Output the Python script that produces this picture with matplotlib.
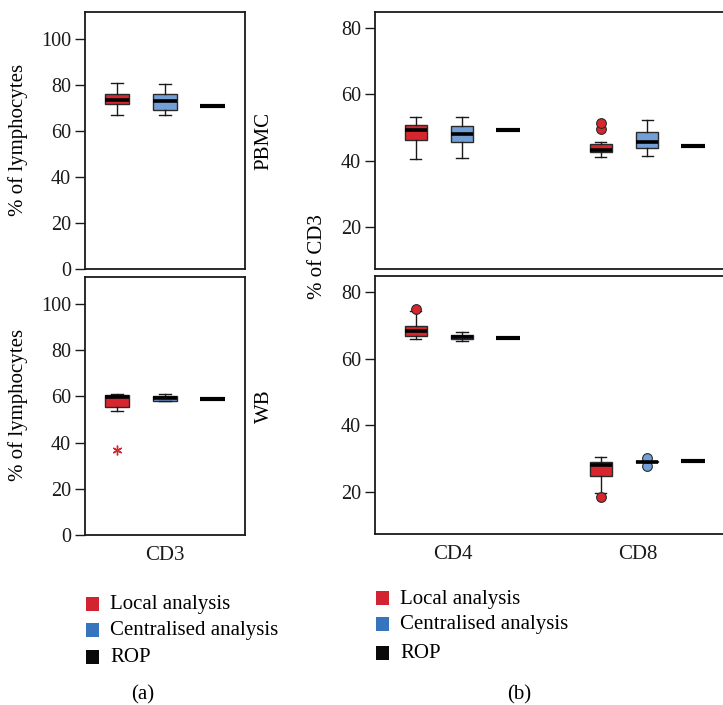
import matplotlib
matplotlib.use("Agg")
import matplotlib.pyplot as plt
from matplotlib.patches import Rectangle

plt.rcParams['font.family'] = ['Liberation Serif', 'DejaVu Serif']

# ---------------- data ----------------
series = ["Local analysis", "Centralised analysis", "ROP"]
legend_colors = ["#d42330", "#3674be", "#0a0a0a"]
box_colors = ["#d7262e", "#72a0d6"]

# Panel (a): CD3, % of lymphocytes
cd3_pbmc_local = dict(whislo=67.1, q1=71.6, med=73.6, q3=76.2, whishi=81.0, fliers=[])
cd3_pbmc_central = dict(whislo=67.0, q1=69.3, med=73.0, q3=76.2, whishi=80.4, fliers=[])
cd3_pbmc_rop = 70.9

cd3_wb_local = dict(whislo=53.5, q1=55.6, med=59.7, q3=60.5, whishi=61.0, fliers=[])
cd3_wb_local_extreme = [37.0]
cd3_wb_central = dict(whislo=57.8, q1=58.2, med=59.1, q3=60.0, whishi=61.0, fliers=[])
cd3_wb_rop = 58.9

# Panel (b): CD4 / CD8, % of CD3
subsets = ["CD4", "CD8"]
pbmc_local = [dict(whislo=40.4, q1=46.1, med=49.1, q3=50.6, whishi=53.2, fliers=[]),
              dict(whislo=41.1, q1=42.5, med=43.1, q3=45.1, whishi=45.7, fliers=[49.4, 51.3])]
pbmc_central = [dict(whislo=40.8, q1=45.5, med=48.0, q3=50.4, whishi=53.0, fliers=[]),
                dict(whislo=41.5, q1=43.9, med=45.5, q3=48.7, whishi=52.3, fliers=[])]
pbmc_rop = [49.1, 44.5]

wb_local = [dict(whislo=65.8, q1=66.7, med=68.2, q3=69.8, whishi=74.3, fliers=[74.9]),
            dict(whislo=19.6, q1=24.8, med=28.1, q3=28.8, whishi=30.5, fliers=[18.5])]
wb_central = [dict(whislo=65.4, q1=66.0, med=66.5, q3=67.0, whishi=68.0, fliers=[]),
              dict(whislo=28.8, q1=28.9, med=29.0, q3=29.1, whishi=29.2, fliers=[27.8, 30.1])]
wb_rop = [66.2, 29.2]

# ---------------- figure ----------------
W, H = 723, 705
fig = plt.figure(figsize=(W / 100, H / 100), dpi=100)


def ax_px(x0, y0, x1, y1):
    return fig.add_axes([x0 / W, 1 - y1 / H, (x1 - x0) / W, (y1 - y0) / H])


TICK_FS = 14.5
LAB_FS = 15


def style_axes(ax):
    for s in ax.spines.values():
        s.set_linewidth(1.3)
        s.set_color("#1a1a1a")
    ax.tick_params(axis='y', direction='out', length=7, width=1.0, labelsize=TICK_FS, pad=3,
                   colors="#1a1a1a")
    ax.tick_params(axis='x', length=0, labelsize=LAB_FS, pad=8, colors="#1a1a1a")


def draw_box(ax, stats, pos, color, width):
    st = dict(stats)
    bp = ax.bxp([st], positions=[pos], widths=width, patch_artist=True,
                capwidths=width * 0.5, showfliers=True,
                boxprops=dict(facecolor=color, edgecolor="#2a2a2a", linewidth=1.0),
                medianprops=dict(color="black", linewidth=2.6, solid_capstyle='butt'),
                whiskerprops=dict(color="#1a1a1a", linewidth=1.0),
                capprops=dict(color="#1a1a1a", linewidth=1.0),
                flierprops=dict(marker='o', markerfacecolor=color, markeredgecolor="#2a2a2a",
                                markersize=7, markeredgewidth=0.8))
    return bp


def draw_rop(ax, value, pos, width):
    ax.hlines(value, pos - width / 2, pos + width / 2, color="black", linewidth=3.0)


# Panel (a)
a_top = ax_px(85, 12, 245, 269)
a_bot = ax_px(85, 277, 245, 535)
for ax, loc, cen, rop, tag in [(a_top, cd3_pbmc_local, cd3_pbmc_central, cd3_pbmc_rop, "PBMC"),
                               (a_bot, cd3_wb_local, cd3_wb_central, cd3_wb_rop, "WB")]:
    draw_box(ax, loc, 1, box_colors[0], 0.5)
    draw_box(ax, cen, 2, box_colors[1], 0.5)
    draw_rop(ax, rop, 3, 0.52)
    ax.set_xlim(0.32, 3.68)
    ax.set_ylim(0, 111.7)
    ax.set_yticks([0, 20, 40, 60, 80, 100])
    ax.text(1.12, 0.5, tag, transform=ax.transAxes, rotation=90, ha='center', va='center',
            fontsize=LAB_FS)
    style_axes(ax)

fig.text(18 / W, 1 - 140 / H, "% of lymphocytes", rotation=90, ha='center', va='center',
         fontsize=LAB_FS)
fig.text(18 / W, 1 - 405 / H, "% of lymphocytes", rotation=90, ha='center', va='center',
         fontsize=LAB_FS)

a_bot.plot([1] * len(cd3_wb_local_extreme), cd3_wb_local_extreme, linestyle='none',
           marker=(6, 2, 0), markersize=7, markeredgewidth=1.0, color="#d7262e")
a_top.set_xticks([])
a_bot.set_xticks([2])
a_bot.set_xticklabels(["CD3"])

# Panel (b)
b_top = ax_px(375, 12, 730, 269)
b_bot = ax_px(375, 276, 730, 534)
group_pos = [0, 4]
for ax, locs, cens, rops in [(b_top, pbmc_local, pbmc_central, pbmc_rop),
                             (b_bot, wb_local, wb_central, wb_rop)]:
    for g, loc, cen, rop in zip(group_pos, locs, cens, rops):
        draw_box(ax, loc, g + 1, box_colors[0], 0.48)
        draw_box(ax, cen, g + 2, box_colors[1], 0.48)
        draw_rop(ax, rop, g + 3, 0.52)
    ax.set_xlim(0.12, 7.79)
    ax.set_ylim(7.3, 84.8)
    ax.set_yticks([20, 40, 60, 80])
    style_axes(ax)

b_top.set_xticks([])
b_bot.set_xticks([g + 1.8 for g in group_pos])
b_bot.set_xticklabels(subsets)
fig.text(318 / W, 1 - 257 / H, "% of CD3", rotation=90, ha='center', va='center',
         fontsize=LAB_FS)

# Legends
def legend_block(x_sq, x_txt, ys):
    for lab, col, y in zip(series, legend_colors, ys):
        fig.patches.append(Rectangle(((x_sq - 6.5) / W, 1 - (y + 7) / H), 13.5 / W, 14 / H,
                                     transform=fig.transFigure, facecolor=col, edgecolor='none'))
        fig.text(x_txt / W, 1 - (y + 1) / H, lab, ha='left', va='center', fontsize=LAB_FS)


legend_block(92, 110, [604, 629.5, 657])
legend_block(382, 400, [598.3, 624, 653])

fig.text(143 / W, 1 - 695 / H, "(a)", ha='center', va='center', fontsize=LAB_FS)
fig.text(519 / W, 1 - 695 / H, "(b)", ha='center', va='center', fontsize=LAB_FS)

fig.savefig("out.png", dpi=100)
